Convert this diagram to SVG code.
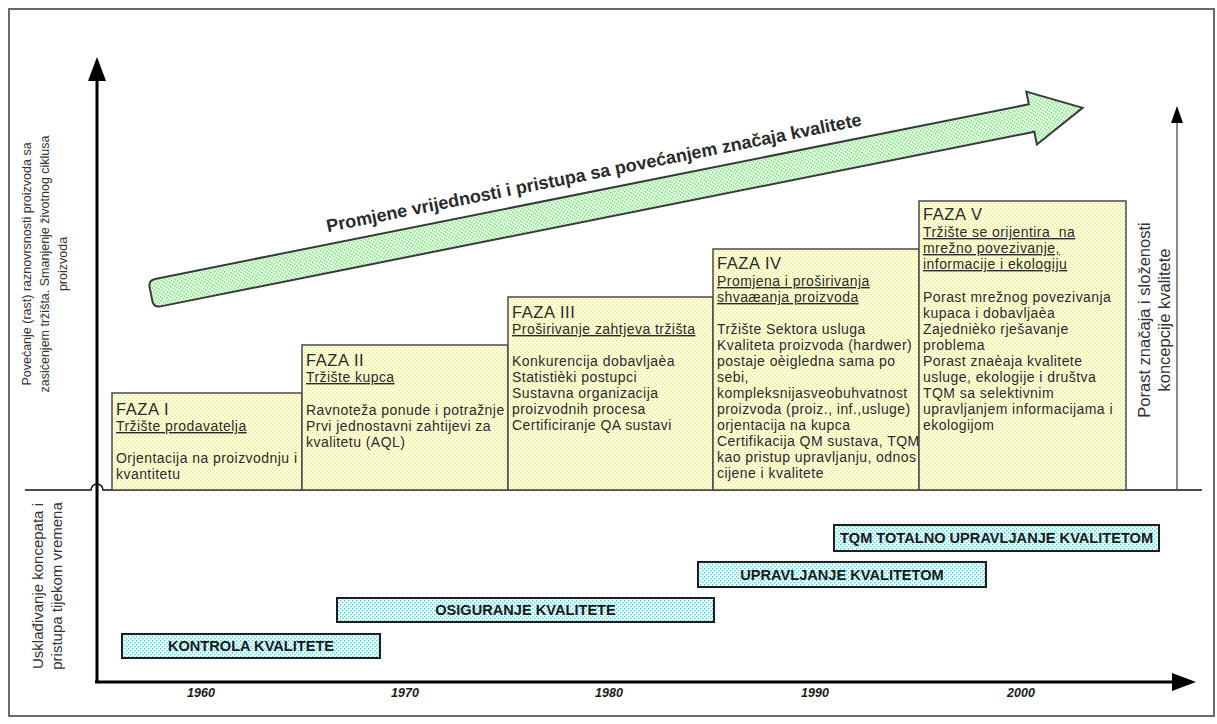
<svg xmlns="http://www.w3.org/2000/svg" width="1217" height="724" viewBox="0 0 1217 724">
<style>
text{font-family:"Liberation Sans",Arial,sans-serif;fill:#2a2a2a}
.ttl{font-size:16.5px;letter-spacing:0.6px}
.sub{font-size:14px;letter-spacing:0.45px;text-decoration:underline}
.bd{font-size:14px;letter-spacing:0.45px}
.box{fill:url(#dotY);stroke:#4a4a4a;stroke-width:1.5}
.bar{fill:url(#dotC);stroke:#1e1e1e;stroke-width:2}
.barT{font-size:14.6px;font-weight:bold;text-anchor:middle;fill:#1a1a1a}
.yr{font-size:12.5px;font-weight:bold;font-style:italic;text-anchor:middle;fill:#1a1a1a}
.axis{stroke:#000;stroke-width:3;fill:none}
.lbl{text-anchor:middle;fill:#333}
</style>
<defs>
<pattern id="dotY" width="4" height="4" patternUnits="userSpaceOnUse"><rect width="4" height="4" fill="#fffff4"/><rect width="1.4" height="1.4" fill="#f2ee50"/><rect x="2" y="2" width="1.4" height="1.4" fill="#f2ee50"/></pattern>
<pattern id="dotG" width="4" height="4" patternUnits="userSpaceOnUse"><rect width="4" height="4" fill="#f6fff6"/><rect width="1.5" height="1.5" fill="#4ede4e"/><rect x="2" y="2" width="1.5" height="1.5" fill="#4ede4e"/></pattern>
<pattern id="dotC" width="4" height="4" patternUnits="userSpaceOnUse"><rect width="4" height="4" fill="#f4ffff"/><rect width="1.4" height="1.4" fill="#30dcee"/><rect x="2" y="2" width="1.4" height="1.4" fill="#30dcee"/></pattern>
<marker id="ah" markerUnits="userSpaceOnUse" markerWidth="24" markerHeight="18" viewBox="0 0 24 18" refX="0" refY="9" orient="auto"><path d="M0,0 L24,9 L0,18 Z" fill="#000"/></marker>
<marker id="ahs" markerUnits="userSpaceOnUse" markerWidth="17" markerHeight="12" viewBox="0 0 17 12" refX="0" refY="6" orient="auto"><path d="M0,0 L17,6 L0,12 Z" fill="#000"/></marker>
</defs>
<rect id="frame" x="9" y="9" width="1205" height="707" fill="#fff" stroke="#6a6a6a" stroke-width="2"/>

<g id="connectors">
<line class="axis" x1="97" y1="683" x2="97" y2="81" marker-end="url(#ah)"/>
<line class="axis" x1="95" y1="682" x2="1172" y2="682" marker-end="url(#ah)"/>
<path d="M25,490 H91 A6,6 0 0 1 103,490 H1202" fill="none" stroke="#111" stroke-width="1.5"/>
<line x1="1177" y1="489" x2="1177" y2="123" stroke="#8a8a8a" stroke-width="2" marker-end="url(#ahs)"/>
</g>

<g id="trend-arrow" transform="translate(151,294) rotate(-11.3)">
<path d="M7,-14 L898,-14 L898,-27 L950,0 L898,27 L898,14 L7,14 Q0,14 0,7 L0,-7 Q0,-14 7,-14 Z" fill="url(#dotG)" stroke="#3a3a3a" stroke-width="2" stroke-linejoin="miter"/>
<text x="458" y="-26" font-size="18" font-weight="bold" text-anchor="middle" fill="#1a1a1a">Promjene vrijednosti i pristupa sa povećanjem značaja kvalitete</text>
</g>

<g id="label-left-top">
<text class="lbl" font-size="12.5" transform="translate(31,264) rotate(-90)">Povećanje (rast) raznovrsnosti proizvoda sa</text>
<text class="lbl" font-size="12.5" transform="translate(49,264) rotate(-90)">zasićenjem tržišta. Smanjenje životnog ciklusa</text>
<text class="lbl" font-size="12.5" transform="translate(67,264) rotate(-90)">proizvoda</text>
</g>
<g id="label-left-bottom">
<text class="lbl" font-size="15" transform="translate(43,586) rotate(-90)">Usklađivanje koncepata i</text>
<text class="lbl" font-size="15" transform="translate(62,586) rotate(-90)">pristupa tijekom vremena</text>
</g>
<g id="label-right">
<text class="lbl" font-size="16.5" transform="translate(1150,320) rotate(-90)">Porast značaja i složenosti</text>
<text class="lbl" font-size="16.5" transform="translate(1170,320) rotate(-90)">koncepcije kvalitete</text>
</g>

<g id="faza1">
<rect class="box" x="112" y="393" width="190" height="97"/>
<text class="ttl" x="116" y="415">FAZA I</text>
<text class="sub" x="116" y="431">Tržište prodavatelja</text>
<text class="bd" x="116" y="463">Orjentacija na proizvodnju i</text>
<text class="bd" x="116" y="479">kvantitetu</text>
</g>
<g id="faza2">
<rect class="box" x="302" y="345" width="206" height="145"/>
<text class="ttl" x="306" y="366">FAZA II</text>
<text class="sub" x="306" y="382">Tržište kupca</text>
<text class="bd" x="306" y="415">Ravnoteža ponude i potražnje</text>
<text class="bd" x="306" y="431">Prvi jednostavni zahtijevi za</text>
<text class="bd" x="306" y="447">kvalitetu (AQL)</text>
</g>
<g id="faza3">
<rect class="box" x="508" y="297" width="205" height="193"/>
<text class="ttl" x="512" y="318">FAZA III</text>
<text class="sub" x="512" y="334">Proširivanje zahtjeva tržišta</text>
<text class="bd" x="512" y="366">Konkurencija dobavljaèa</text>
<text class="bd" x="512" y="382">Statistièki postupci</text>
<text class="bd" x="512" y="398">Sustavna organizacija</text>
<text class="bd" x="512" y="414">proizvodnih procesa</text>
<text class="bd" x="512" y="430">Certificiranje QA sustavi</text>
</g>
<g id="faza4">
<rect class="box" x="713" y="249" width="206" height="241"/>
<text class="ttl" x="717" y="269">FAZA IV</text>
<text class="sub" x="717" y="286">Promjena i proširivanja</text>
<text class="sub" x="717" y="302">shvaæanja proizvoda</text>
<text class="bd" x="717" y="334">Tržište Sektora usluga</text>
<text class="bd" x="717" y="350">Kvaliteta proizvoda (hardwer)</text>
<text class="bd" x="717" y="366">postaje oèigledna sama po</text>
<text class="bd" x="717" y="382">sebi,</text>
<text class="bd" x="717" y="398">kompleksnijasveobuhvatnost</text>
<text class="bd" x="717" y="414">proizvoda (proiz., inf.,usluge)</text>
<text class="bd" x="717" y="430">orjentacija na kupca</text>
<text class="bd" x="717" y="446">Certifikacija QM sustava, TQM</text>
<text class="bd" x="717" y="462">kao pristup upravljanju, odnos</text>
<text class="bd" x="717" y="478">cijene i kvalitete</text>
</g>
<g id="faza5">
<rect class="box" x="919" y="201" width="207" height="289"/>
<text class="ttl" x="923" y="220">FAZA V</text>
<text class="sub" x="923" y="237">Tržište se orijentira&#160; na</text>
<text class="sub" x="923" y="253">mrežno povezivanje,</text>
<text class="sub" x="923" y="269">informacije i ekologiju</text>
<text class="bd" x="923" y="302">Porast mrežnog povezivanja</text>
<text class="bd" x="923" y="318">kupaca i dobavljaèa</text>
<text class="bd" x="923" y="334">Zajednièko rješavanje</text>
<text class="bd" x="923" y="350">problema</text>
<text class="bd" x="923" y="366">Porast znaèaja kvalitete</text>
<text class="bd" x="923" y="382">usluge, ekologije i društva</text>
<text class="bd" x="923" y="398">TQM sa selektivnim</text>
<text class="bd" x="923" y="414">upravljanjem informacijama i</text>
<text class="bd" x="923" y="430">ekologijom</text>
</g>

<g id="bar-kontrola">
<rect class="bar" x="122" y="634" width="258" height="24"/>
<text class="barT" x="251" y="651">KONTROLA KVALITETE</text>
</g>
<g id="bar-osiguranje">
<rect class="bar" x="337" y="598" width="377" height="24"/>
<text class="barT" x="525.5" y="615">OSIGURANJE KVALITETE</text>
</g>
<g id="bar-upravljanje">
<rect class="bar" x="698" y="562" width="288" height="25"/>
<text class="barT" x="842" y="579.5">UPRAVLJANJE KVALITETOM</text>
</g>
<g id="bar-tqm">
<rect class="bar" x="834" y="525" width="325" height="26"/>
<text class="barT" x="996.5" y="543">TQM TOTALNO UPRAVLJANJE KVALITETOM</text>
</g>

<g id="years">
<text class="yr" x="201" y="697">1960</text>
<text class="yr" x="405" y="697">1970</text>
<text class="yr" x="609" y="697">1980</text>
<text class="yr" x="815" y="697">1990</text>
<text class="yr" x="1021" y="697">2000</text>
</g>
</svg>
